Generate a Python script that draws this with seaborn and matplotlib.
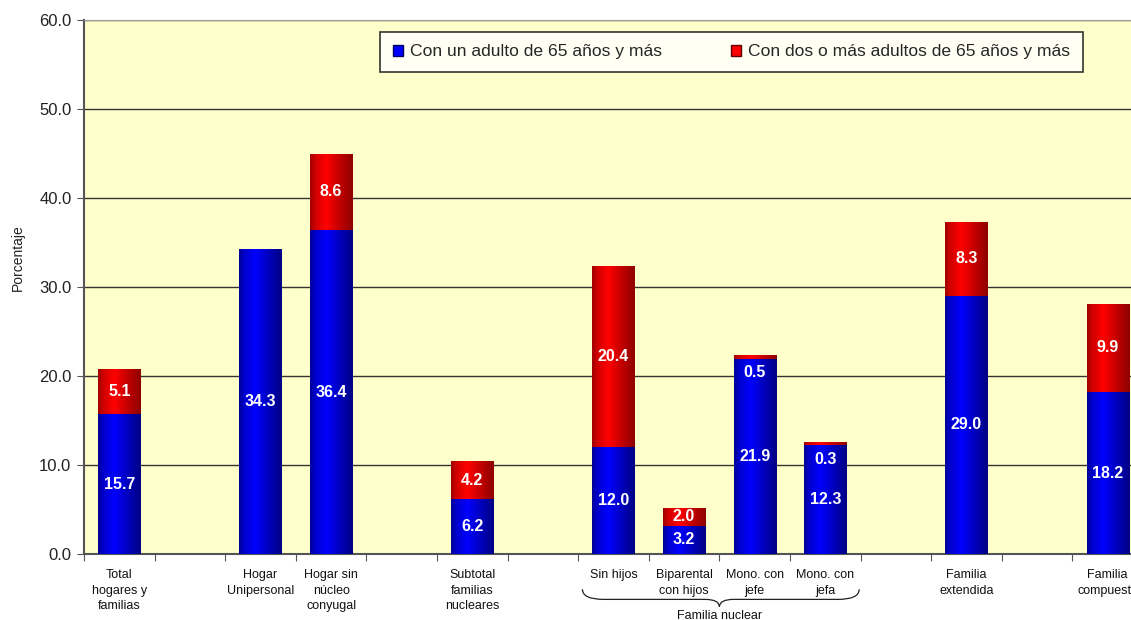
import numpy as np
import pandas as pd
import seaborn as sns
import matplotlib.pyplot as plt
from matplotlib.path import Path
from matplotlib.patches import PathPatch, Patch
from matplotlib.colors import LinearSegmentedColormap
import matplotlib.transforms as mtransforms

# Datos
categorias = ["Total\nhogares y\nfamilias", "Hogar\nUnipersonal", "Hogar sin\nnúcleo\nconyugal",
              "Subtotal\nfamilias\nnucleares", "Sin hijos", "Biparental\ncon hijos",
              "Mono. con\njefe", "Mono. con\njefa", "Familia\nextendida", "Familia\ncompuesta"]
posiciones = [0, 2, 3, 5, 7, 8, 9, 10, 12, 14]
un_adulto = [15.7, 34.3, 36.4, 6.2, 12.0, 3.2, 21.9, 12.3, 29.0, 18.2]
dos_adultos = [5.1, 0.0, 8.6, 4.2, 20.4, 2.0, 0.5, 0.3, 8.3, 9.9]
serie_1 = "Con un adulto de 65 años y más"
serie_2 = "Con dos o más adultos de 65 años y más"

df = pd.DataFrame({"pos": posiciones, "un": un_adulto, "dos": dos_adultos})
df["total"] = df["un"] + df["dos"]

sns.set_style("white")
plt.rcParams["font.family"] = ["Liberation Sans", "DejaVu Sans"]

fig = plt.figure(figsize=(11.31, 6.2), dpi=100)
ax = fig.add_axes([84 / 1131, 66 / 620, 1047 / 1131, 534 / 620])
ax.set_facecolor("#FFFFCC")

# barras: primero el total (rojo), luego el segmento azul encima
sns.barplot(data=df, x="pos", y="total", native_scale=True, width=0.6,
            color="red", ax=ax, zorder=3)
n_red = len(ax.patches)
sns.barplot(data=df, x="pos", y="un", native_scale=True, width=0.6,
            color="blue", ax=ax, zorder=4)

# degradado tipo cilindro
t = np.linspace(0, 1, 256)
prof = np.interp(t, [0, 0.12, 0.38, 0.7, 1.0], [0.45, 0.72, 1.0, 0.65, 0.35])
azul = LinearSegmentedColormap.from_list("az", ["#000040", "#0000FF"])
rojo = LinearSegmentedColormap.from_list("ro", ["#500000", "#FF0000"])
for i, p in enumerate(ax.patches):
    cmap = rojo if i < n_red else azul
    x0, y0 = p.get_x(), p.get_y()
    w, h = p.get_width(), p.get_height()
    if h <= 0:
        continue
    p.set_facecolor("none")
    p.set_edgecolor("none")
    im = ax.imshow(prof[np.newaxis, :], cmap=cmap, vmin=0, vmax=1, aspect="auto",
                   extent=(x0, x0 + w, y0, y0 + h), zorder=p.get_zorder(),
                   interpolation="bilinear")
    im.set_clip_path(p)

# etiquetas de valores
for pos, un, dos in zip(posiciones, un_adulto, dos_adultos):
    ax.text(pos, un / 2, f"{un:.1f}", color="white", fontsize=11.5, fontweight="bold",
            ha="center", va="center", zorder=6)
    if dos >= 1:
        ax.text(pos, un + dos / 2, f"{dos:.1f}", color="white", fontsize=11.5,
                fontweight="bold", ha="center", va="center", zorder=6)
    elif dos > 0:
        ax.text(pos, un + dos - 2.0, f"{dos:.1f}", color="white", fontsize=11.5,
                fontweight="bold", ha="center", va="center", zorder=6)

ax.set_ylim(0, 60)
ax.set_yticks(np.arange(0, 61, 10))
ax.set_yticklabels([f"{v:.1f}" for v in range(0, 61, 10)], fontsize=12, color="#222222")
ax.yaxis.grid(True, color="#333333", linewidth=1)
ax.set_axisbelow(True)
ax.tick_params(axis="y", length=5, color="#555555", left=True, pad=4)

# ticks del eje x entre categorías, etiquetas centradas
ax.set_xticks(np.arange(-0.5, 14.4, 1))
ax.set_xticklabels([])
ax.tick_params(axis="x", length=5, color="#555555", bottom=True)
ax.set_xlim(-0.5, -0.5 + 1047 / 70.6)
for pos, cat in zip(posiciones, categorias):
    ax.text(pos, -0.028, cat, transform=ax.get_xaxis_transform(), ha="center", va="top",
            fontsize=9, color="#111111", linespacing=1.4, clip_on=False)

for s in ["left", "bottom"]:
    ax.spines[s].set_color("#555555")
    ax.spines[s].set_linewidth(1.5)
ax.spines["top"].set_color("#999999")
ax.spines["right"].set_visible(False)

ax.set_xlabel("")
ax.set_ylabel("Porcentaje", fontsize=10, color="#222222")
ax.yaxis.set_label_coords(-0.056, 0.555)

# llave bajo "Familia nuclear"
tr = mtransforms.blended_transform_factory(ax.transData, ax.transAxes)
bx0, bx1, bm = 6.56, 10.48, 8.5
yt, ym, yb = -0.066, -0.085, -0.099
verts = [(bx0, yt), (bx0, ym), (bx0 + 0.3, ym), (bx0 + 0.3, ym),
         (bm - 0.2, ym), (bm - 0.2, ym),
         (bm, ym), (bm, yb), (bm, yb), (bm, ym), (bm + 0.2, ym),
         (bx1 - 0.3, ym), (bx1 - 0.3, ym),
         (bx1, ym), (bx1, yt)]
codes = [Path.MOVETO, Path.CURVE3, Path.CURVE3, Path.LINETO,
         Path.LINETO, Path.LINETO,
         Path.CURVE3, Path.CURVE3, Path.LINETO, Path.CURVE3, Path.CURVE3,
         Path.LINETO, Path.LINETO,
         Path.CURVE3, Path.CURVE3]
ax.add_patch(PathPatch(Path(verts, codes), transform=tr, facecolor="none",
                       edgecolor="#222222", linewidth=0.9, clip_on=False))
ax.text(bm, -0.104, "Familia nuclear", transform=tr, ha="center", va="top",
        fontsize=9, color="#111111", clip_on=False)

# leyenda
handles = [Patch(facecolor="#0000FF", edgecolor="#000060"),
           Patch(facecolor="#FF0000", edgecolor="#600000")]
leg = ax.legend(handles, [serie_1, serie_2], loc="upper left", bbox_to_anchor=(0.283, 0.978),
                ncol=2, frameon=True, fancybox=False, fontsize=12.6, handlelength=0.6,
                handleheight=0.6, handletextpad=0.4, columnspacing=3.9,
                borderpad=0.72, borderaxespad=0)
leg.get_frame().set_edgecolor("black")
leg.get_frame().set_linewidth(1.2)
leg.set_zorder(10)

fig.savefig("out.png", dpi=100)
